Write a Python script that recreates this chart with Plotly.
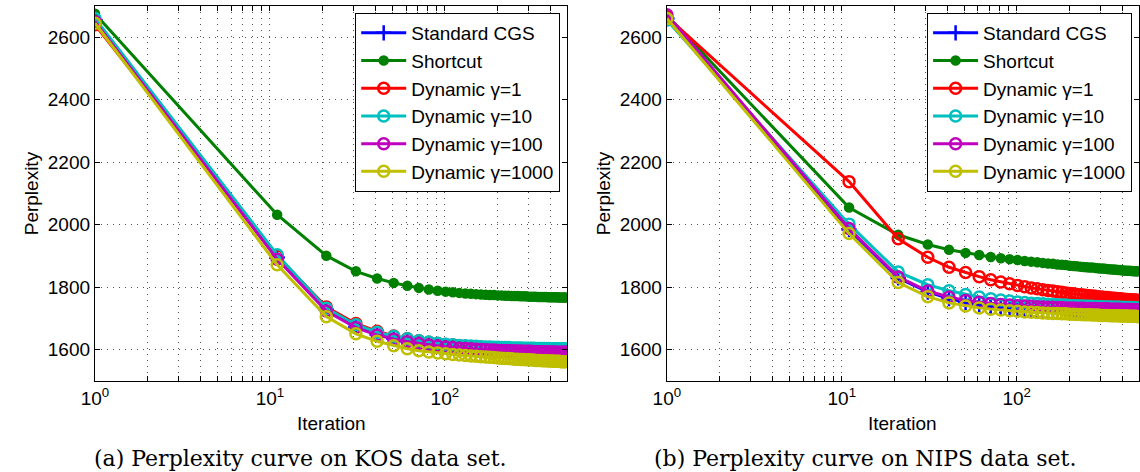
import plotly.graph_objects as go

# ---------------- data ----------------
iterations = [1, 11, 21, 31, 41, 51, 61, 71, 81, 91, 101, 111, 121, 131, 141, 151, 161, 171, 181, 191,
              201, 211, 221, 231, 241, 251, 261, 271, 281, 291, 301, 311, 321, 331, 341, 351, 361, 371, 381, 391,
              401, 411, 421, 431, 441, 451, 461, 471, 481, 491]

series_names = ["Standard CGS", "Shortcut", "Dynamic γ=1", "Dynamic γ=10", "Dynamic γ=100", "Dynamic γ=1000"]

kos_standard = [2655, 1895, 1728, 1674, 1649, 1636, 1627, 1621, 1616, 1613, 1610, 1608, 1606, 1605, 1604, 1603, 1602, 1601, 1600, 1600,
                1599, 1599, 1598, 1598, 1598, 1597, 1597, 1597, 1596, 1596, 1596, 1596, 1595, 1595, 1595, 1595, 1595, 1594, 1594, 1594,
                1594, 1594, 1594, 1593, 1593, 1593, 1593, 1593, 1593, 1593]
kos_shortcut = [2675, 2032, 1901, 1851, 1828, 1814, 1805, 1798, 1793, 1789, 1786, 1784, 1782, 1780, 1779, 1778, 1777, 1776, 1775, 1775,
                1774, 1774, 1773, 1773, 1772, 1772, 1772, 1771, 1771, 1771, 1770, 1770, 1770, 1770, 1769, 1769, 1769, 1769, 1769, 1768,
                1768, 1768, 1768, 1768, 1768, 1767, 1767, 1767, 1767, 1767]
kos_g1 = [2640, 1900, 1737, 1684, 1659, 1644, 1635, 1629, 1624, 1620, 1617, 1615, 1613, 1611, 1610, 1609, 1608, 1607, 1606, 1606,
          1605, 1605, 1604, 1604, 1603, 1603, 1603, 1603, 1602, 1602, 1602, 1602, 1601, 1601, 1601, 1601, 1601, 1601, 1600, 1600,
          1600, 1600, 1600, 1600, 1600, 1600, 1599, 1599, 1599, 1599]
kos_g10 = [2660, 1904, 1733, 1680, 1656, 1643, 1635, 1629, 1625, 1621, 1618, 1616, 1614, 1613, 1612, 1611, 1610, 1609, 1609, 1608,
           1608, 1607, 1607, 1607, 1606, 1606, 1606, 1606, 1605, 1605, 1605, 1605, 1605, 1604, 1604, 1604, 1604, 1604, 1604, 1604,
           1603, 1603, 1603, 1603, 1603, 1603, 1603, 1603, 1603, 1603]
kos_g100 = [2650, 1890, 1724, 1671, 1647, 1634, 1626, 1620, 1615, 1612, 1609, 1607, 1605, 1604, 1603, 1602, 1601, 1600, 1599, 1599,
            1598, 1598, 1597, 1597, 1597, 1596, 1596, 1596, 1595, 1595, 1595, 1595, 1594, 1594, 1594, 1594, 1594, 1593, 1593, 1593,
            1593, 1593, 1593, 1592, 1592, 1592, 1592, 1592, 1592, 1592]
kos_g1000 = [2645, 1872, 1706, 1651, 1627, 1613, 1603, 1597, 1593, 1590, 1587, 1585, 1583, 1582, 1580, 1579, 1578, 1577, 1576, 1575,
             1574, 1573, 1572, 1572, 1571, 1570, 1570, 1569, 1569, 1568, 1568, 1567, 1567, 1566, 1566, 1566, 1565, 1565, 1565, 1564,
             1564, 1564, 1563, 1563, 1563, 1563, 1562, 1562, 1562, 1562]

nips_standard = [2660, 1985, 1830, 1785, 1764, 1752, 1745, 1740, 1736, 1733, 1731, 1729, 1728, 1727, 1726, 1725, 1724, 1724, 1723, 1723,
                 1722, 1722, 1721, 1721, 1721, 1720, 1720, 1720, 1720, 1719, 1719, 1719, 1719, 1719, 1718, 1718, 1718, 1718, 1718, 1718,
                 1717, 1717, 1717, 1717, 1717, 1717, 1717, 1716, 1716, 1716]
nips_shortcut = [2670, 2055, 1968, 1937, 1920, 1910, 1903, 1897, 1893, 1890, 1887, 1884, 1882, 1880, 1878, 1876, 1875, 1873, 1872, 1871,
                 1869, 1868, 1867, 1866, 1865, 1864, 1863, 1863, 1862, 1861, 1860, 1860, 1859, 1858, 1858, 1857, 1857, 1856, 1855, 1855,
                 1854, 1854, 1853, 1853, 1853, 1852, 1852, 1851, 1851, 1851]
nips_g1 = [2665, 2138, 1955, 1896, 1864, 1847, 1834, 1824, 1817, 1811, 1806, 1802, 1798, 1795, 1792, 1790, 1788, 1786, 1784, 1782,
           1780, 1779, 1777, 1776, 1775, 1774, 1773, 1772, 1771, 1770, 1769, 1768, 1767, 1767, 1766, 1765, 1765, 1764, 1763, 1763,
           1762, 1762, 1761, 1761, 1760, 1760, 1759, 1759, 1759, 1758]
nips_g10 = [2655, 2002, 1849, 1808, 1789, 1777, 1769, 1763, 1759, 1756, 1753, 1751, 1749, 1748, 1747, 1746, 1745, 1744, 1743, 1743,
            1742, 1741, 1741, 1740, 1740, 1739, 1739, 1739, 1738, 1738, 1738, 1737, 1737, 1737, 1737, 1736, 1736, 1736, 1736, 1736,
            1735, 1735, 1735, 1735, 1735, 1735, 1734, 1734, 1734, 1734]
nips_g100 = [2672, 1988, 1833, 1788, 1769, 1758, 1752, 1748, 1745, 1743, 1741, 1740, 1739, 1738, 1737, 1736, 1736, 1735, 1735, 1734,
             1734, 1734, 1733, 1733, 1733, 1732, 1732, 1732, 1732, 1731, 1731, 1731, 1731, 1731, 1730, 1730, 1730, 1730, 1730, 1730,
             1729, 1729, 1729, 1729, 1729, 1729, 1729, 1728, 1728, 1728]
nips_g1000 = [2660, 1972, 1815, 1770, 1750, 1740, 1734, 1730, 1727, 1725, 1723, 1721, 1720, 1719, 1718, 1717, 1716, 1716, 1715, 1715,
              1714, 1714, 1713, 1713, 1712, 1712, 1712, 1711, 1711, 1711, 1710, 1710, 1710, 1710, 1709, 1709, 1709, 1709, 1709, 1708,
              1708, 1708, 1708, 1708, 1707, 1707, 1707, 1707, 1707, 1706]

y_ticks = [1600, 1800, 2000, 2200, 2400, 2600]
x_major = [1, 10, 100]
x_major_labels = ["10<sup>0</sup>", "10<sup>1</sup>", "10<sup>2</sup>"]
captions = ["(a) Perplexity curve on KOS data set.", "(b) Perplexity curve on NIPS data set."]

# ---------------- styles ----------------
colors = ["#0000FF", "#008000", "#FF0000", "#00BFBF", "#BF00BF", "#BFBF00"]
symbols = ["cross-thin", "circle", "circle-open", "circle-open", "circle-open", "circle-open"]
sizes = [11, 8, 11, 11, 11, 11]

W, H = 1140, 472
FONT = "Liberation Sans, Arial, sans-serif"
FS = 19

fig = go.Figure()

panels = [
    [kos_standard, kos_shortcut, kos_g1, kos_g10, kos_g100, kos_g1000],
    [nips_standard, nips_shortcut, nips_g1, nips_g10, nips_g100, nips_g1000],
]

for p, data in enumerate(panels):
    for i, ys in enumerate(data):
        fig.add_trace(go.Scatter(
            x=iterations, y=ys, name=series_names[i],
            mode="lines+markers",
            line=dict(color=colors[i], width=3),
            marker=dict(symbol=symbols[i], size=sizes[i], color=colors[i],
                        line=dict(color=colors[i], width=2.5)),
            xaxis="x" if p == 0 else "x2",
            yaxis="y" if p == 0 else "y2",
            legend="legend" if p == 0 else "legend2",
        ))

# tick positions for log grid (1..9, 10..90, 100..500)
x_tickvals = []
x_ticktext = []
for dec in [1, 10, 100]:
    for m in range(1, 10):
        v = dec * m
        if v > 500:
            break
        x_tickvals.append(v)
        x_ticktext.append(x_major_labels[x_major.index(v)] if v in x_major else "")

left_dom = [82 / W, 560 / W]
right_dom = [661 / W, 1139 / W]
y_dom = [1 - 381 / H, 1 - 6 / H]

GRID = dict(showgrid=True, gridcolor="#555555", griddash="1px,5px", gridwidth=1)

def xaxis_cfg(dom, anchor):
    return dict(domain=dom, anchor=anchor, type="log", range=[0, 2.69897],
                tickmode="array", tickvals=x_tickvals, ticktext=x_ticktext,
                ticks="inside", ticklen=5, tickcolor="black", tickwidth=1,
                showline=True, linecolor="black", linewidth=1.3, mirror="ticks",
                zeroline=False, tickfont=dict(family=FONT, size=FS, color="black"), **GRID)

def yaxis_cfg(anchor):
    return dict(domain=y_dom, anchor=anchor, range=[1500, 2700],
                tickmode="array", tickvals=y_ticks,
                ticks="inside", ticklen=5, tickcolor="black", tickwidth=1,
                showline=True, linecolor="black", linewidth=1.3, mirror="ticks",
                zeroline=False, tickfont=dict(family=FONT, size=FS, color="black"), **GRID)

def legend_cfg(xr):
    return dict(x=xr / W, xanchor="right", y=1 - 13 / H, yanchor="top",
                bgcolor="white", bordercolor="black", borderwidth=1,
                font=dict(family=FONT, size=FS, color="black"),
                itemwidth=45, tracegroupgap=0)

annotations = []
for k, (dom, cx_cap) in enumerate([(left_dom, 290), (right_dom, 862)]):
    cx = (dom[0] + dom[1]) / 2
    annotations.append(dict(text="Iteration", x=cx, y=1 - 423 / H, xref="paper", yref="paper",
                            showarrow=False, xanchor="center", yanchor="middle",
                            font=dict(family=FONT, size=FS, color="black")))
    annotations.append(dict(text="Perplexity", x=(dom[0] * W - 64) / W, y=(y_dom[0] + y_dom[1]) / 2,
                            xref="paper", yref="paper", textangle=-90, showarrow=False,
                            xanchor="center", yanchor="middle",
                            font=dict(family=FONT, size=FS, color="black")))
    annotations.append(dict(text=captions[k], x=cx_cap / W, y=1 - 458 / H, xref="paper", yref="paper",
                            showarrow=False, xanchor="center", yanchor="middle",
                            font=dict(family="DejaVu Serif, serif", size=22, color="black")))

fig.update_layout(
    width=W, height=H,
    margin=dict(l=0, r=0, t=0, b=0),
    paper_bgcolor="white", plot_bgcolor="white",
    showlegend=True,
    xaxis=xaxis_cfg(left_dom, "y"),
    yaxis=yaxis_cfg("x"),
    xaxis2=xaxis_cfg(right_dom, "y2"),
    yaxis2=yaxis_cfg("x2"),
    legend=legend_cfg(553),
    legend2=legend_cfg(1132),
    annotations=annotations,
)

fig.write_html("out.html")
